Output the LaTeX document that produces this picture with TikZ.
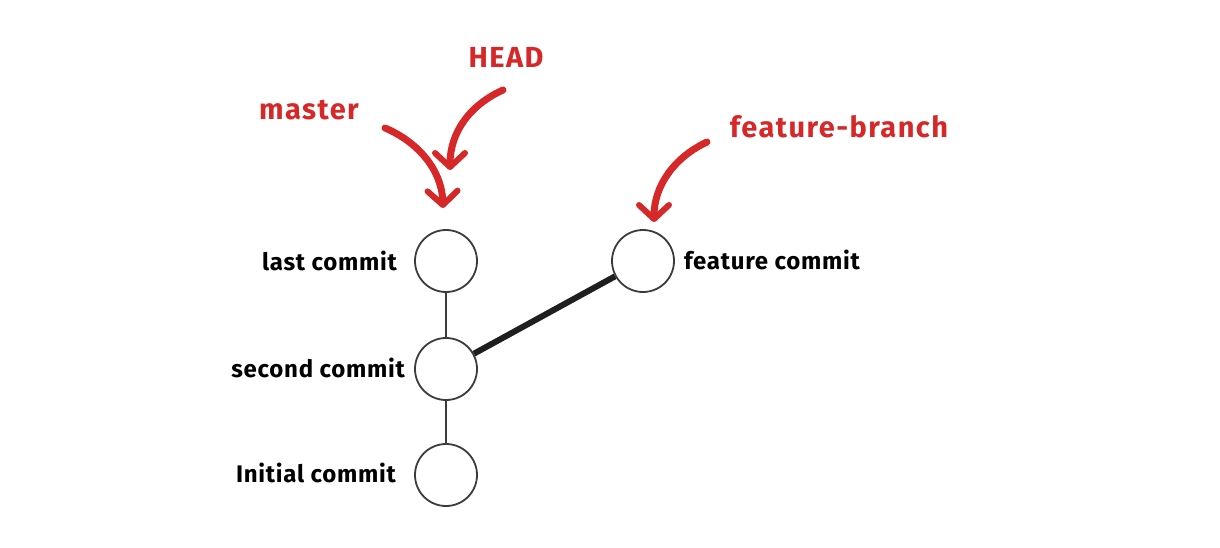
\documentclass[tikz,border=0pt]{standalone}
\usepackage{fontspec}
\setmainfont{Fira Sans}
\usetikzlibrary{arrows.meta}
\definecolor{gitred}{RGB}{214,40,40}
\definecolor{ringgray}{RGB}{60,60,60}
\tikzset{
  commit/.style={circle, draw=ringgray, line width=1.8pt, minimum size=62pt, inner sep=0pt},
  clabel/.style={font=\fontsize{24}{26}\selectfont\bfseries\addfontfeature{LetterSpace=3}, text=black, inner sep=0pt},
  rlabel/.style={font=\fontsize{29}{31}\selectfont\bfseries\addfontfeature{LetterSpace=5}, text=gitred, inner sep=0pt},
  thinlink/.style={draw=ringgray, line width=2pt},
  thicklink/.style={draw=black!88, line width=6pt},
  pointer/.style={draw=gitred, line width=7pt, line cap=round,
    -{Straight Barb[length=14pt, width=30pt, line width=6pt, round]}}
}
\begin{document}
\begin{tikzpicture}[x=1pt, y=-1pt]
\useasboundingbox (0,0) rectangle (1220,548);
\node[commit] (last) at (446,261) {};
\node[commit] (second) at (446,369) {};
\node[commit] (init) at (446,475) {};
\node[commit] (feat) at (643,261) {};

\node[clabel, anchor=east] (llast) at (397,261) {last commit};
\node[clabel, anchor=east] (lsecond) at (405,368) {second commit};
\node[clabel, anchor=east] (linit) at (396,473) {Initial commit};
\node[clabel, anchor=west] (lfeat) at (684,260) {feature commit};

\path[thinlink] (last) -- (second);
\path[thinlink] (second) -- (init);
\path[thicklink] (second) -- (feat);

\node[rlabel] (master) at (309,110) {master};
\node[rlabel] (head) at (506,57) {HEAD};
\node[rlabel] (fbranch) at (839,127) {feature-branch};

\coordinate (ms) at (385,128);
\coordinate (me) at (443,208);
\coordinate (hs) at (503,90);
\coordinate (he) at (450,170);
\coordinate (fs) at (707,142);
\coordinate (fe) at (654,222);

\draw[pointer] (ms) .. controls (418,142) and (442,170) .. (me);
\draw[pointer] (hs) .. controls (470,105) and (450,132) .. (he);
\draw[pointer] (fs) .. controls (675,157) and (654,185) .. (fe);
\end{tikzpicture}
\end{document}
